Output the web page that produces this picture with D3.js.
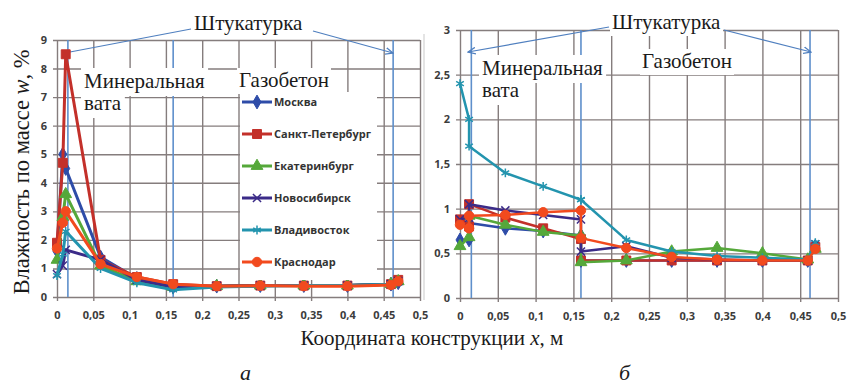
<!DOCTYPE html>
<html>
<head>
<meta charset="utf-8">
<script src="https://cdn.jsdelivr.net/npm/d3@7"></script>
<style>
  html, body { margin: 0; padding: 0; background: #fff; }
  svg { display: block; }
  .tick text { font-family: "Open Sans", "Liberation Sans", sans-serif; font-weight: 700; font-size: 11px; fill: #3c3c3c; }
  .leg { font-family: "Open Sans", "Liberation Sans", sans-serif; font-weight: 700; font-size: 11px; fill: #333; }
</style>
</head>
<body>
<svg id="chart" width="848" height="386"></svg>
<script>
// Cities (series), in drawing order
const cities = ["Москва", "Санкт-Петербург", "Екатеринбург", "Новосибирск", "Владивосток", "Краснодар"];

// Panel а — coordinates of the calculation nodes, m
const xNodesA = [0, 0.008, 0.012, 0.06, 0.11, 0.16, 0.22, 0.28, 0.34, 0.40, 0.46, 0.47];
const moscowA      = [1.6, 5.0, 4.5, 1.4, 0.65, 0.35, 0.38, 0.40, 0.40, 0.40, 0.45, 0.50];
const spbA         = [1.9, 4.7, 8.5, 1.3, 0.70, 0.45, 0.38, 0.40, 0.40, 0.40, 0.45, 0.60];
const ekbA         = [1.3, 2.8, 3.6, 1.1, 0.55, 0.35, 0.38, 0.40, 0.40, 0.40, 0.45, 0.55];
const novosibA     = [0.8, 1.1, 1.65, 1.3, 0.60, 0.35, 0.38, 0.40, 0.40, 0.40, 0.45, 0.55];
const vladA        = [0.75, 1.5, 2.3, 1.0, 0.50, 0.25, 0.35, 0.38, 0.40, 0.40, 0.45, 0.55];
const krasnodarA   = [1.7, 2.6, 3.0, 1.15, 0.70, 0.45, 0.38, 0.40, 0.38, 0.38, 0.42, 0.55];

// Panel б — nodes (the layer boundary at 0.16 m carries two values)
const xNodesB = [0, 0.012, 0.012, 0.06, 0.11, 0.16, 0.16, 0.22, 0.28, 0.34, 0.40, 0.46, 0.47];
const moscowB      = [0.65, 0.65, 0.84, 0.78, 0.75, 0.70, 0.42, 0.42, 0.42, 0.42, 0.42, 0.42, 0.58];
const spbB         = [0.88, 0.80, 1.05, 0.90, 0.78, 0.66, 0.42, 0.42, 0.42, 0.42, 0.42, 0.42, 0.57];
const ekbB         = [0.58, 0.68, 0.92, 0.82, 0.74, 0.70, 0.40, 0.42, 0.52, 0.56, 0.50, 0.43, 0.55];
const novosibB     = [0.88, 0.90, 1.05, 0.98, 0.93, 0.88, 0.52, 0.58, 0.45, 0.43, 0.42, 0.42, 0.60];
const vladB        = [2.4, 2.0, 1.7, 1.4, 1.25, 1.10, 1.10, 0.65, 0.52, 0.47, 0.45, 0.43, 0.62];
const krasnodarB   = [0.82, 0.78, 0.92, 0.93, 0.96, 0.98, 0.67, 0.56, 0.46, 0.43, 0.42, 0.42, 0.55];

// Layer boundaries (plaster / mineral wool / aerated concrete / plaster)
const layerBounds = [0.015, 0.16, 0.463];

// Tick values
const xTicks = [0, 0.05, 0.1, 0.15, 0.2, 0.25, 0.3, 0.35, 0.4, 0.45, 0.5];
const yTicksA = [0, 1, 2, 3, 4, 5, 6, 7, 8, 9];
const yTicksB = [0, 0.5, 1, 1.5, 2, 2.5, 3];

const colors  = ["#2E4CA8", "#C3302A", "#55A83A", "#3B2B88", "#2394AE", "#F24A1E"];
const symbols = [d3.symbolDiamond, d3.symbolSquare, d3.symbolTriangle, d3.symbolTimes, d3.symbolAsterisk, d3.symbolCircle];
const symSize = [55, 80, 60, 45, 55, 70];

const seriesA = [moscowA, spbA, ekbA, novosibA, vladA, krasnodarA];
const seriesB = [moscowB, spbB, ekbB, novosibB, vladB, krasnodarB];

const SERIF = '"Liberation Serif", "Times New Roman", serif';
const fmt = v => String(v).replace(".", ",");
const svg = d3.select("#chart");
const GRID = "#857d7d";

// light frame line between panels
svg.append("line").attr("x1", 424).attr("x2", 424).attr("y1", 34).attr("y2", 300)
  .attr("stroke", "#c9c9c9").attr("stroke-width", 1);

function panel(opt) {
  const { x, y, yTicks, xNodes, series, lw } = opt;
  const g = svg.append("g");
  const [x0, x1] = x.range();
  const [y0, y1] = y.range();

  // vertical gridlines + x labels
  const ax = g.append("g").attr("transform", `translate(0,${y0})`)
    .call(d3.axisBottom(x).tickValues(xTicks).tickFormat(fmt).tickSizeOuter(0));
  ax.select(".domain").remove();
  ax.selectAll(".tick line").attr("y1", 4).attr("y2", y1 - y0)
    .attr("stroke", GRID).attr("stroke-width", 1.4);
  ax.selectAll(".tick text").attr("y", 14).attr("dy", "0.71em");

  // horizontal gridlines + y labels
  const ay = g.append("g").attr("transform", `translate(${x0},0)`)
    .call(d3.axisLeft(y).tickValues(yTicks).tickFormat(fmt).tickSizeOuter(0));
  ay.select(".domain").remove();
  ay.selectAll(".tick line").attr("x1", -4).attr("x2", x1 - x0)
    .attr("stroke", GRID).attr("stroke-width", 1.4);
  ay.selectAll(".tick text").attr("x", -10);

  // layer boundaries
  g.selectAll(".bound").data(layerBounds).join("line")
    .attr("x1", d => x(d)).attr("x2", d => x(d))
    .attr("y1", y1).attr("y2", y0)
    .attr("stroke", "#5E8FCB").attr("stroke-width", 1.6);

  const annot = g.append("g");
  const marks = g.append("g");
  const line = d3.line().x((d, i) => x(xNodes[i])).y(d => y(d));
  series.forEach((vals, si) => {
    marks.append("path").datum(vals)
      .attr("d", line).attr("fill", "none")
      .attr("stroke", colors[si]).attr("stroke-width", lw)
      .attr("stroke-linejoin", "round");
    const stroked = si === 3 || si === 4;
    marks.selectAll(null).data(vals).join("path")
      .attr("transform", (d, i) => `translate(${x(xNodes[i])},${y(d)})`)
      .attr("d", d3.symbol(symbols[si], symSize[si]))
      .attr("fill", stroked ? "none" : colors[si])
      .attr("stroke", colors[si]).attr("stroke-width", stroked ? 1.5 : 1);
  });
  return annot;
}

const xA = d3.scaleLinear([0, 0.5], [57, 420]);
const yA = d3.scaleLinear([0, 9], [297, 40]);
const xB = d3.scaleLinear([0, 0.5], [460, 838]);
const yB = d3.scaleLinear([0, 3], [298, 30]);

const annA = panel({ x: xA, y: yA, yTicks: yTicksA, xNodes: xNodesA, series: seriesA, lw: 3 });
const annB = panel({ x: xB, y: yB, yTicks: yTicksB, xNodes: xNodesB, series: seriesB, lw: 2.5 });

// arrowhead
svg.append("defs").append("marker").attr("id", "arr")
  .attr("viewBox", "0 0 10 10").attr("refX", 9).attr("refY", 5)
  .attr("markerWidth", 7).attr("markerHeight", 7).attr("orient", "auto")
  .append("path").attr("d", "M0,1 L9,5 L0,9").attr("fill", "none")
  .attr("stroke", "#4F7FBF").attr("stroke-width", 1.5);

function serifText(parent, x, y, size) {
  return parent.append("text").attr("x", x).attr("y", y)
    .style("font-family", SERIF).style("font-size", size + "px").attr("fill", "#1a1a1a");
}
// text with a white box behind it
function label(parent, txt, x, y, size, pad = 2) {
  const t = serifText(parent, x, y, size).text(txt);
  const b = t.node().getBBox();
  parent.insert("rect", () => t.node())
    .attr("x", b.x - pad).attr("y", b.y - pad + 2)
    .attr("width", b.width + 2 * pad).attr("height", b.height + 2 * pad - 2)
    .attr("fill", "#fff");
  return t;
}
function arrow(parent, x1, y1, x2, y2, head = true) {
  parent.append("line").attr("x1", x1).attr("y1", y1).attr("x2", x2).attr("y2", y2)
    .attr("stroke", "#4F7FBF").attr("stroke-width", 1.2)
    .attr("marker-end", head ? "url(#arr)" : null);
}

// panel а annotations
label(annA, "Штукатурка", 194, 30, 21);
arrow(annA, 191, 29, 70, 52, false);
arrow(annA, 313, 31, 393, 53);
label(annA, "Минеральная", 84, 88, 21, 3);
label(annA, "вата", 84, 110, 21, 3);
label(annA, "Газобетон", 239, 87, 21);

// legend
const lg = svg.append("g");
lg.append("rect").attr("x", 240).attr("y", 92).attr("width", 137).attr("height", 188).attr("fill", "#fff");
cities.forEach((c, i) => {
  const yy = 102 + i * 32;
  lg.append("line").attr("x1", 242).attr("x2", 272).attr("y1", yy).attr("y2", yy)
    .attr("stroke", colors[i]).attr("stroke-width", 3);
  const stroked = i === 3 || i === 4;
  lg.append("path").attr("transform", `translate(257,${yy})`)
    .attr("d", d3.symbol(symbols[i], symSize[i]))
    .attr("fill", stroked ? "none" : colors[i]).attr("stroke", colors[i])
    .attr("stroke-width", stroked ? 1.5 : 1);
  lg.append("text").attr("class", "leg").attr("x", 274).attr("y", yy).attr("dy", "0.35em").text(c);
});

// panel б annotations
label(annB, "Штукатурка", 612, 29, 21);
arrow(annB, 609, 27, 468, 52);
arrow(annB, 724, 30, 811, 52);
label(annB, "Минеральная", 482, 75, 21, 3);
label(annB, "вата", 482, 97, 21, 3);
label(annB, "Газобетон", 642, 68, 21);

// axis titles
const yt = serifText(svg, 0, 0, 22.5).attr("text-anchor", "middle")
  .attr("transform", "translate(29,172) rotate(-90)");
yt.append("tspan").text("Влажность по массе ");
yt.append("tspan").style("font-style", "italic").text("w");
yt.append("tspan").text(", %");

const xt = serifText(svg, 432, 345, 21).attr("text-anchor", "middle");
xt.append("tspan").text("Координата конструкции ");
xt.append("tspan").style("font-style", "italic").text("x");
xt.append("tspan").text(", м");

serifText(svg, 240, 380, 22).style("font-style", "italic").text("а");
serifText(svg, 619, 380, 22).style("font-style", "italic").text("б");
</script>
</body>
</html>
